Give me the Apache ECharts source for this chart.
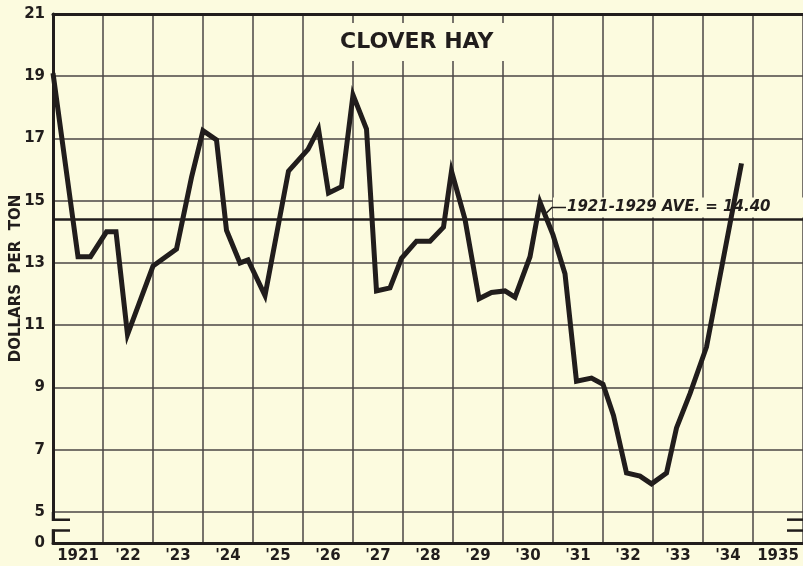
<!DOCTYPE html>
<html>
<head>
<meta charset="utf-8">
<script src="https://cdn.jsdelivr.net/npm/echarts@6/dist/echarts.min.js"></script>
<style>
  html, body { margin: 0; padding: 0; background: #fcfbdf; }
  #main { width: 803px; height: 566px; }
</style>
</head>
<body>
<div id="main"></div>
<script>
// year labels under each column
const yearLabels = ['1921', "'22", "'23", "'24", "'25", "'26", "'27", "'28", "'29", "'30", "'31", "'32", "'33", "'34", '1935'];
// time of each reading (fraction of year) and price in dollars per ton
const times = [1921.0, 1921.5, 1921.75, 1922.07, 1922.26, 1922.49, 1923.0, 1923.47, 1923.77, 1924.0,
  1924.27, 1924.47, 1924.74, 1924.9, 1925.24, 1925.71, 1926.1, 1926.31, 1926.51, 1926.77,
  1927.0, 1927.27, 1927.47, 1927.74, 1927.97, 1928.27, 1928.54, 1928.81, 1928.97, 1929.24,
  1929.52, 1929.77, 1930.04, 1930.24, 1930.54, 1930.74, 1931.0, 1931.24, 1931.47, 1931.77,
  1932.0, 1932.21, 1932.47, 1932.74, 1932.97, 1933.27, 1933.47, 1933.74, 1934.07, 1934.77];
const prices = [19.1, 13.2, 13.2, 14.0, 14.0, 10.7, 12.9, 13.45, 15.75, 17.25,
  16.95, 14.05, 13.0, 13.1, 11.95, 15.95, 16.65, 17.3, 15.25, 15.45,
  18.4, 17.3, 12.1, 12.2, 13.15, 13.7, 13.7, 14.15, 15.95, 14.4,
  11.85, 12.05, 12.1, 11.9, 13.2, 14.95, 13.9, 12.65, 9.2, 9.3,
  9.1, 8.1, 6.25, 6.15, 5.9, 6.25, 7.7, 8.8, 10.3, 16.2];
const average = 14.40;

const ink = '#211d1c';
const gridInk = '#4b4644';
const paper = '#fcfbdf';

let myChart = echarts.init(document.getElementById('main'));

let option = {
  backgroundColor: paper,
  animation: false,
  grid: { left: 53, right: 0, top: 14, bottom: 23, outerBoundsMode: 'none', containLabel: false },
  xAxis: [
    {
      type: 'category',
      data: yearLabels,
      position: 'bottom',
      boundaryGap: true,
      axisLine: { show: true, lineStyle: { color: ink, width: 3 } },
      axisTick: { show: false },
      splitLine: { show: false },
      axisLabel: { interval: 0, color: ink, fontFamily: 'DejaVu Sans', fontWeight: 'bold', fontSize: 15, margin: 6 }
    },
    {
      type: 'value',
      position: 'top',
      min: 1921,
      max: 1936,
      interval: 1,
      axisLine: { show: true, onZero: false, lineStyle: { color: ink, width: 3 } },
      axisTick: { show: false },
      axisLabel: { show: false },
      splitLine: { show: true, lineStyle: { color: gridInk, width: 1.5 } }
    }
  ],
  yAxis: {
    type: 'value',
    min: 4,
    max: 21,
    interval: 1,
    name: 'DOLLARS  PER  TON',
    nameLocation: 'middle',
    nameGap: 29,
    nameMoveOverlap: false,
    nameTextStyle: { color: ink, fontFamily: 'DejaVu Sans', fontWeight: 'bold', fontSize: 15 },
    axisLine: { show: true, lineStyle: { color: ink, width: 3 } },
    axisTick: { show: false },
    axisLabel: {
      color: ink, fontFamily: 'DejaVu Sans', fontWeight: 'bold', fontSize: 15, margin: 8,
      formatter: function (v) {
        if (v === 4) return '0';
        return v % 2 === 1 ? String(v) : '';
      }
    },
    splitLine: { show: true, lineStyle: { color: ['rgba(0,0,0,0)', gridInk], width: 1.5 } }
  },
  series: [{
    type: 'line',
    xAxisIndex: 1,
    data: times.map((t, i) => [t, prices[i]]),
    symbol: 'none',
    lineStyle: { color: ink, width: 5, join: 'miter' },
    z: 3,
    markLine: {
      silent: true,
      symbol: 'none',
      label: { show: false },
      lineStyle: { color: ink, width: 2.5, type: 'solid' },
      data: [{ yAxis: average }]
    }
  }]
};
myChart.setOption(option);

// decorations: title, average label, axis break marks
const px = (t, v) => myChart.convertToPixel({ xAxisIndex: 1, yAxisIndex: 0 }, [t, v]);
const yBreakTop = px(1921, 4.75)[1];
const yBreakBot = px(1921, 4.4)[1];
const yFive = px(1921, 5)[1];
const yBase = px(1921, 4)[1];
const xLeft = px(1921, 5)[0];
const xRight = px(1936, 5)[0];
const avgY = px(1921, average)[1];
const peak = px(1930.74, 14.95);

myChart.setOption({
  graphic: [
    {
      type: 'text', z: 1, left: 328, top: 23,
      style: {
        text: 'CLOVER HAY', fill: ink, font: 'bold 22px "DejaVu Sans"',
        backgroundColor: paper, padding: [8, 12]
      }
    },
    {
      type: 'rect', z: 1, shape: { x: 553, y: avgY - 22, width: 250, height: 20 },
      style: { fill: paper }
    },
    {
      type: 'text', z: 1, x: 567, y: avgY - 12,
      style: {
        text: '1921-1929 AVE. = 14.40', fill: ink,
        font: 'italic bold 15px "DejaVu Sans"', textVerticalAlign: 'middle'
      }
    },
    {
      type: 'polyline', z: 1,
      shape: { points: [[peak[0] + 5, avgY - 5], [peak[0] + 12, avgY - 12], [566, avgY - 12]] },
      style: { stroke: ink, lineWidth: 1.5, fill: null }
    },
    // left break: gap in axis line with brackets
    {
      type: 'rect', z: 5, shape: { x: xLeft - 3, y: yBreakTop + 1, width: 6, height: yBreakBot - yBreakTop - 2 },
      style: { fill: paper }
    },
    {
      type: 'polyline', z: 5,
      shape: { points: [[xLeft, yFive], [xLeft, yBreakTop], [xLeft + 17, yBreakTop]] },
      style: { stroke: ink, lineWidth: 2.5, fill: null }
    },
    {
      type: 'polyline', z: 5,
      shape: { points: [[xLeft + 17, yBreakBot], [xLeft, yBreakBot], [xLeft, yBase]] },
      style: { stroke: ink, lineWidth: 2.5, fill: null }
    },
    // right break marks
    {
      type: 'line', z: 5, shape: { x1: xRight - 16, y1: yBreakTop, x2: xRight, y2: yBreakTop },
      style: { stroke: ink, lineWidth: 2.5 }
    },
    {
      type: 'line', z: 5, shape: { x1: xRight - 16, y1: yBreakBot, x2: xRight, y2: yBreakBot },
      style: { stroke: ink, lineWidth: 2.5 }
    }
  ]
});
</script>
</body>
</html>
